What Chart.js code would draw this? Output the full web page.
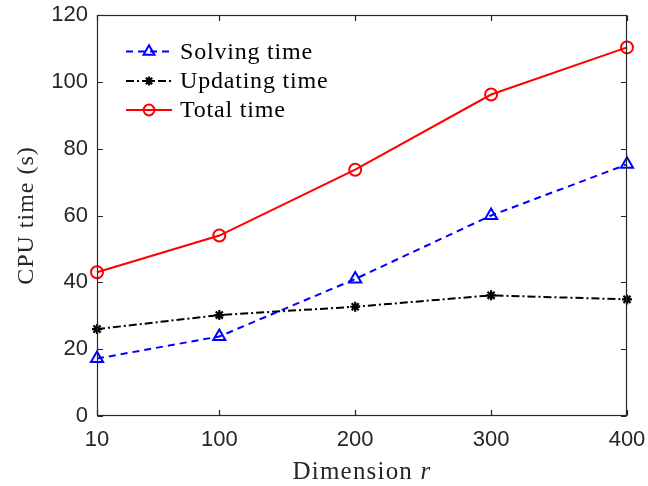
<!DOCTYPE html>
<html>
<head>
<meta charset="utf-8">
<script src="https://cdn.jsdelivr.net/npm/chart.js@4/dist/chart.umd.min.js"></script>
<style>
  html, body { margin: 0; padding: 0; background: #ffffff; }
  #wrap { width: 648px; height: 486px; }
</style>
</head>
<body>
<div id="wrap"><canvas id="c" width="648" height="486"></canvas></div>
<script>
// CPU time versus dimension r
const dimensions   = [10, 100, 200, 300, 400];
const solvingTime  = [17.2, 23.8, 41.0, 60.0, 75.3];
const updatingTime = [26.0, 30.2, 32.7, 36.1, 34.9];
const totalTime    = [43.0, 54.0, 73.7, 96.2, 110.3];
const xTickValues  = [10, 100, 200, 300, 400];
const yTickValues  = [0, 20, 40, 60, 80, 100, 120];
const seriesNames  = ['Solving time', 'Updating time', 'Total time'];

const AXIS_COLOR = '#262626';
const SERIF = '"Liberation Serif", "DejaVu Serif", serif';
const SANS = '"Liberation Sans", Arial, sans-serif';

const toPoints = vals => vals.map((v, i) => ({ x: dimensions[i], y: v }));

const styles = [
  { color: '#0000ff', dash: [7, 5], pointStyle: 'triangle', radius: 7, width: 2 },
  { color: '#000000', dash: [8, 3, 2, 3], pointStyle: 'star', radius: 5, width: 2.2 },
  { color: '#ff0000', dash: [], pointStyle: 'circle', radius: 6, width: 2 }
];
const seriesValues = [solvingTime, updatingTime, totalTime];

const datasets = seriesValues.map((vals, k) => ({
  label: seriesNames[k],
  data: toPoints(vals),
  borderColor: styles[k].color,
  borderWidth: 2,
  borderDash: styles[k].dash,
  pointStyle: styles[k].pointStyle,
  pointRadius: styles[k].radius,
  pointBorderWidth: styles[k].width,
  pointBorderColor: styles[k].color,
  pointBackgroundColor: k === 1 ? '#000000' : 'rgba(0,0,0,0)',
  tension: 0,
  fill: false,
  clip: false
}));

// Remove the extra room Chart.js reserves for edge tick labels
const noEdgePadding = s => {
  s.paddingLeft = 0; s.paddingRight = 0; s.paddingTop = 0; s.paddingBottom = 0;
};

// Axes box with inward ticks, axis titles and the legend
const decorations = {
  id: 'decorations',
  afterDraw(chart) {
    const ctx = chart.ctx;
    const a = chart.chartArea;
    const xs = chart.scales.x, ys = chart.scales.y;
    const L = Math.round(a.left) + 0.5, R = Math.round(a.right) - 0.5;
    const T = Math.round(a.top) + 0.5, B = Math.round(a.bottom) - 0.5;
    ctx.save();
    ctx.strokeStyle = AXIS_COLOR;
    ctx.lineWidth = 1.2;
    ctx.setLineDash([]);
    ctx.strokeRect(L, T, R - L, B - T);
    const tl = 5.5;
    ctx.beginPath();
    xTickValues.forEach(v => {
      const px = Math.round(xs.getPixelForValue(v)) + 0.5;
      ctx.moveTo(px, B); ctx.lineTo(px, B - tl);
      ctx.moveTo(px, T); ctx.lineTo(px, T + tl);
    });
    yTickValues.forEach(v => {
      const py = Math.round(ys.getPixelForValue(v)) + 0.5;
      ctx.moveTo(L, py); ctx.lineTo(L + tl, py);
      ctx.moveTo(R, py); ctx.lineTo(R - tl, py);
    });
    ctx.stroke();

    // y title
    ctx.fillStyle = AXIS_COLOR;
    ctx.font = '24px ' + SERIF;
    ctx.letterSpacing = '1px';
    ctx.textAlign = 'center';
    ctx.textBaseline = 'middle';
    ctx.save();
    ctx.translate(27, (a.top + a.bottom) / 2);
    ctx.rotate(-Math.PI / 2);
    ctx.fillText('CPU time (s)', 0, 0);
    ctx.restore();

    // x title: upright word + italic variable
    const base = 479;
    ctx.textBaseline = 'alphabetic';
    ctx.textAlign = 'left';
    ctx.letterSpacing = '1.2px';
    ctx.font = '25px ' + SERIF;
    const w1 = ctx.measureText('Dimension ').width;
    ctx.font = 'italic 25px ' + SERIF;
    const w2 = ctx.measureText('r').width;
    const x0 = (a.left + a.right) / 2 - (w1 + w2) / 2;
    ctx.font = '25px ' + SERIF;
    ctx.fillText('Dimension ', x0, base);
    ctx.font = 'italic 25px ' + SERIF;
    ctx.fillText('r', x0 + w1, base);

    // legend
    const rowsY = [51.5, 81, 110];
    ctx.font = '24px ' + SERIF;
    ctx.letterSpacing = '0.8px';
    ctx.textBaseline = 'middle';
    chart.data.datasets.forEach((ds, k) => {
      const y = rowsY[k];
      ctx.strokeStyle = ds.borderColor;
      ctx.lineWidth = ds.borderWidth;
      ctx.setLineDash(ds.borderDash);
      ctx.beginPath();
      ctx.moveTo(126, y); ctx.lineTo(172, y);
      ctx.stroke();
      ctx.setLineDash([]);
      ctx.fillStyle = ds.pointBackgroundColor;
      ctx.strokeStyle = ds.pointBorderColor;
      ctx.lineWidth = ds.pointBorderWidth;
      Chart.helpers.drawPoint(ctx, {
        pointStyle: ds.pointStyle,
        radius: ds.pointRadius * 0.9,
        rotation: 0,
        borderWidth: ds.pointBorderWidth
      }, 149, y);
      ctx.fillStyle = '#000000';
      ctx.fillText(ds.label, 180, y + 1);
    });
    ctx.restore();
  }
};

new Chart(document.getElementById('c'), {
  type: 'line',
  data: { datasets },
  options: {
    responsive: false,
    animation: false,
    devicePixelRatio: 1,
    layout: { padding: { left: 0, right: 21, top: 15, bottom: 0 } },
    plugins: { legend: { display: false }, tooltip: { enabled: false } },
    scales: {
      x: {
        type: 'linear',
        min: 10,
        max: 400,
        afterBuildTicks: s => { s.ticks = xTickValues.map(v => ({ value: v })); },
        afterFit: s => { s.height = 70; noEdgePadding(s); },
        grid: { display: false, drawTicks: false },
        border: { display: false },
        ticks: { color: AXIS_COLOR, font: { family: SANS, size: 22 }, padding: 11, maxRotation: 0 }
      },
      y: {
        type: 'linear',
        min: 0,
        max: 120,
        afterBuildTicks: s => { s.ticks = yTickValues.map(v => ({ value: v })); },
        afterFit: s => { s.width = 97; noEdgePadding(s); },
        grid: { display: false, drawTicks: false },
        border: { display: false },
        ticks: { color: AXIS_COLOR, font: { family: SANS, size: 22 }, padding: 9 }
      }
    }
  },
  plugins: [decorations]
});
</script>
</body>
</html>
